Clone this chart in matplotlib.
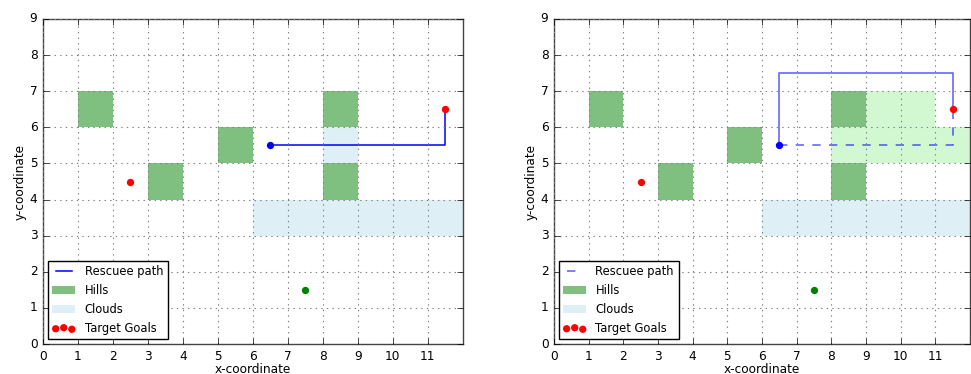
import matplotlib
matplotlib.use('Agg')
import matplotlib.pyplot as plt
from matplotlib.patches import Rectangle

plt.style.use('classic')

# grid cells given by their lower-left corner
hills = [(1, 6), (3, 4), (5, 5), (8, 6), (8, 4)]
clouds_left = [(6, 3), (7, 3), (8, 3), (9, 3), (10, 3), (11, 3), (8, 5)]
clouds_right = [(6, 3), (7, 3), (8, 3), (9, 3), (10, 3), (11, 3)]
explored_right = [(9, 6), (10, 6), (8, 5), (9, 5), (10, 5), (11, 5)]

# goals and agent position
goals_x = [2.5, 11.5]
goals_y = [4.5, 6.5]
base_x, base_y = [7.5], [1.5]
start_x, start_y = [6.5], [5.5]

# rescuee paths
path_x = [6.5, 11.5, 11.5]
path_y = [5.5, 5.5, 6.5]
detour_x = [6.5, 6.5, 11.5, 11.5]
detour_y = [5.5, 7.5, 7.5, 6.5]

FS = 8.7


def draw_cells(ax, cells, color, alpha, label):
    #one rectangle per grid cell, only the first one gets a legend entry
    for i, (cx, cy) in enumerate(cells):
        ax.add_patch(Rectangle((cx, cy), 1, 1, facecolor=color, edgecolor='none',
                               alpha=alpha, label=label if i == 0 else None))


def setup_axes(ax):
    ax.set_xlim(0, 12)
    ax.set_ylim(0, 9)
    ax.set_xticks(range(0, 12))
    ax.set_yticks(range(0, 10))
    ax.grid(True, color='gray', linestyle=':', linewidth=0.8)
    ax.tick_params(labelsize=FS)
    ax.set_xlabel('x-coordinate', fontsize=FS, labelpad=0)
    ax.set_ylabel('y-coordinate', fontsize=FS, labelpad=2)
    for sp in ax.spines.values():
        sp.set_color('#444444')


fig = plt.figure(figsize=(9.71, 3.74), dpi=100, facecolor='white')
ax1 = fig.add_axes([0.0443, 0.0802, 0.4322, 0.869])
ax2 = fig.add_axes([0.5705, 0.0802, 0.4284, 0.869])

#left chart: direct path through the cloud
setup_axes(ax1)
ax1.plot(path_x, path_y, color='blue', linewidth=1.1, label='Rescuee path')
draw_cells(ax1, hills, 'green', 0.5, 'Hills')
draw_cells(ax1, clouds_left, 'lightblue', 0.4, 'Clouds')
ax1.scatter(goals_x, goals_y, s=18, color='red', edgecolors='red', label='Target Goals', zorder=3)
ax1.scatter(base_x, base_y, s=18, color='green', edgecolors='green', zorder=3)
ax1.scatter(start_x, start_y, s=18, color='blue', edgecolors='blue', zorder=3)
ax1.legend(loc='lower left', fontsize=8.3, scatterpoints=3, borderaxespad=0.4)

#right chart: planned path and detour
setup_axes(ax2)
ax2.plot(path_x, path_y, color='blue', linestyle='--', linewidth=1.2, alpha=0.6, label='Rescuee path')
ax2.plot(detour_x, detour_y, color='blue', linewidth=1.2, alpha=0.6)
draw_cells(ax2, hills, 'green', 0.5, 'Hills')
draw_cells(ax2, clouds_right, 'lightblue', 0.4, 'Clouds')
draw_cells(ax2, explored_right, 'lightgreen', 0.4, None)
ax2.scatter(goals_x, goals_y, s=18, color='red', edgecolors='red', label='Target Goals', zorder=3)
ax2.scatter(base_x, base_y, s=18, color='green', edgecolors='green', zorder=3)
ax2.scatter(start_x, start_y, s=18, color='blue', edgecolors='blue', zorder=3)
ax2.legend(loc='lower left', fontsize=8.3, scatterpoints=3, borderaxespad=0.4)

fig.savefig('out.png', dpi=100, facecolor='white')
